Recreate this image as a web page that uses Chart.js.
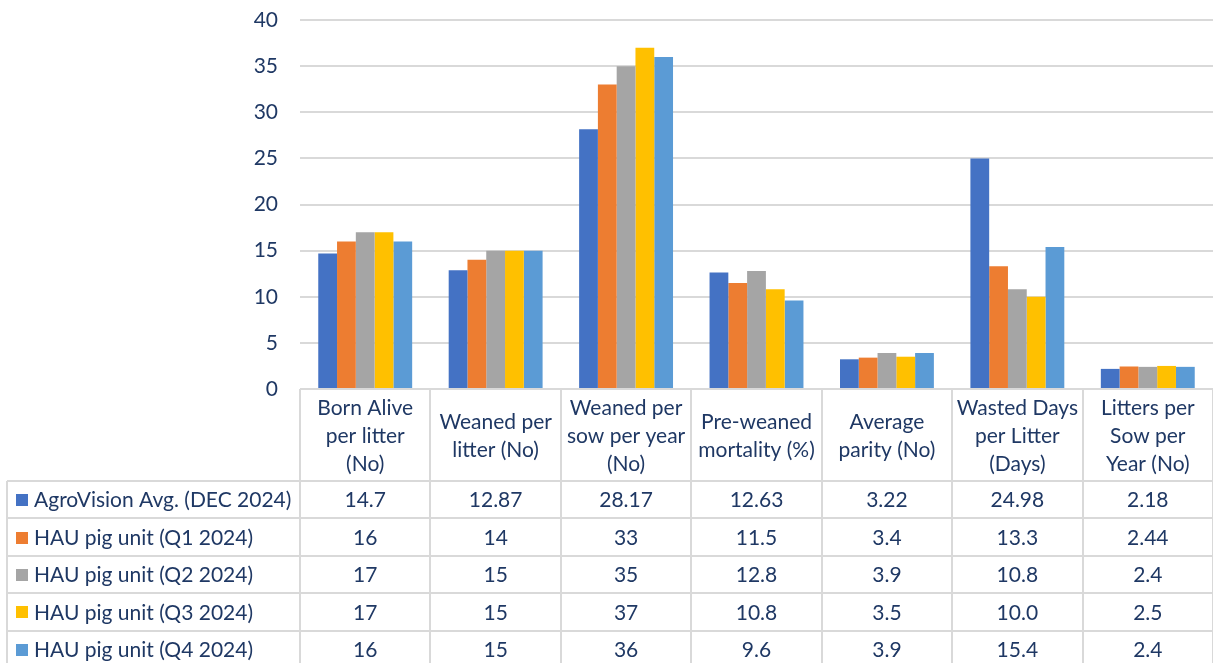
<!DOCTYPE html>
<html>
<head>
<meta charset="utf-8">
<script src="https://cdn.jsdelivr.net/npm/chart.js@4/dist/chart.umd.min.js"></script>
<style>
html,body{margin:0;padding:0;background:#fff;}
#wrap{position:relative;width:1213px;height:663px;}
</style>
</head>
<body>
<div id="wrap"><canvas id="c" width="1213" height="663"></canvas></div>
<script>
const categories = [
  ["Born Alive", "per litter", "(No)"],
  ["Weaned per", "litter (No)"],
  ["Weaned per", "sow per year", "(No)"],
  ["Pre-weaned", "mortality (%)"],
  ["Average", "parity (No)"],
  ["Wasted Days", "per Litter", "(Days)"],
  ["Litters per", "Sow per", "Year (No)"]
];
const seriesNames = [
  "AgroVision Avg. (DEC 2024)",
  "HAU pig unit (Q1 2024)",
  "HAU pig unit (Q2 2024)",
  "HAU pig unit (Q3 2024)",
  "HAU pig unit (Q4 2024)"
];
const agroVision = ["14.7", "12.87", "28.17", "12.63", "3.22", "24.98", "2.18"];
const hauQ1 = ["16", "14", "33", "11.5", "3.4", "13.3", "2.44"];
const hauQ2 = ["17", "15", "35", "12.8", "3.9", "10.8", "2.4"];
const hauQ3 = ["17", "15", "37", "10.8", "3.5", "10.0", "2.5"];
const hauQ4 = ["16", "15", "36", "9.6", "3.9", "15.4", "2.4"];
const yMin = 0, yMax = 40, yStep = 5;

const seriesValues = [agroVision, hauQ1, hauQ2, hauQ3, hauQ4];
const colors = ["#4472C4", "#ED7D31", "#A5A5A5", "#FFC000", "#5B9BD5"];
const textColor = "#1F3864";
const lineColor = "#D9D9D9";
const FONT = "Lato";
const FS = 21;

const tablePlugin = {
  id: "dataTable",
  afterDraw(chart) {
    const ctx = chart.ctx;
    const x = chart.scales.x;
    const area = chart.chartArea;
    const colW = x.getPixelForValue(1) - x.getPixelForValue(0);
    const headTop = area.bottom;
    const rowTop = 481;
    const rowH = 37.4;
    const legendLeft = 7;
    const H = chart.height;
    ctx.save();
    ctx.strokeStyle = lineColor;
    ctx.lineWidth = 2;
    for (let i = 0; i <= categories.length; i++) {
      const bx = Math.round(x.getPixelForValue(0) - colW / 2 + i * colW);
      ctx.beginPath();
      ctx.moveTo(bx, headTop);
      ctx.lineTo(bx, H);
      ctx.stroke();
    }
    ctx.beginPath();
    ctx.moveTo(legendLeft, rowTop);
    ctx.lineTo(legendLeft, H);
    ctx.stroke();
    for (let r = 0; r < seriesNames.length; r++) {
      const y = Math.round(rowTop + r * rowH);
      ctx.beginPath();
      ctx.moveTo(legendLeft, y);
      ctx.lineTo(area.right, y);
      ctx.stroke();
    }
    ctx.fillStyle = textColor;
    ctx.font = FS + "px " + FONT;
    ctx.textAlign = "center";
    ctx.textBaseline = "middle";
    const headMid = (headTop + rowTop) / 2;
    const lh = 28;
    categories.forEach((lines, i) => {
      const cx = x.getPixelForValue(i);
      const y0 = headMid - (lines.length - 1) * lh / 2;
      lines.forEach((ln, k) => ctx.fillText(ln, cx, y0 + k * lh + 1));
    });
    seriesNames.forEach((name, r) => {
      const cy = rowTop + r * rowH + rowH / 2 + 1;
      ctx.fillStyle = colors[r];
      ctx.fillRect(16, Math.round(cy - 6.5), 12, 12);
      ctx.fillStyle = textColor;
      ctx.textAlign = "left";
      ctx.fillText(name, 34, cy);
      ctx.textAlign = "center";
      seriesValues[r].forEach((v, i) => ctx.fillText(v, x.getPixelForValue(i), cy));
    });
    ctx.restore();
  }
};

new Chart(document.getElementById("c"), {
  type: "bar",
  data: {
    labels: categories.map(l => l.join(" ")),
    datasets: seriesNames.map((n, i) => ({
      label: n,
      data: seriesValues[i].map(Number),
      backgroundColor: colors[i],
      borderWidth: 0,
      categoryPercentage: 0.72,
      barPercentage: 1.0
    }))
  },
  options: {
    responsive: false,
    animation: false,
    devicePixelRatio: 1,
    layout: { autoPadding: false, padding: { left: 0, right: 0, top: 20, bottom: 274 } },
    plugins: { legend: { display: false }, tooltip: { enabled: false } },
    scales: {
      x: { display: false },
      y: {
        min: yMin, max: yMax,
        afterFit(scale) { scale.width = 300; scale.paddingTop = 0; scale.paddingBottom = 0; },
        border: { display: false },
        grid: { color: lineColor, lineWidth: 2, drawTicks: false },
        ticks: {
          stepSize: yStep,
          padding: 22,
          color: textColor,
          font: { family: FONT, size: FS }
        }
      }
    }
  },
  plugins: [tablePlugin]
});
</script>
</body>
</html>
